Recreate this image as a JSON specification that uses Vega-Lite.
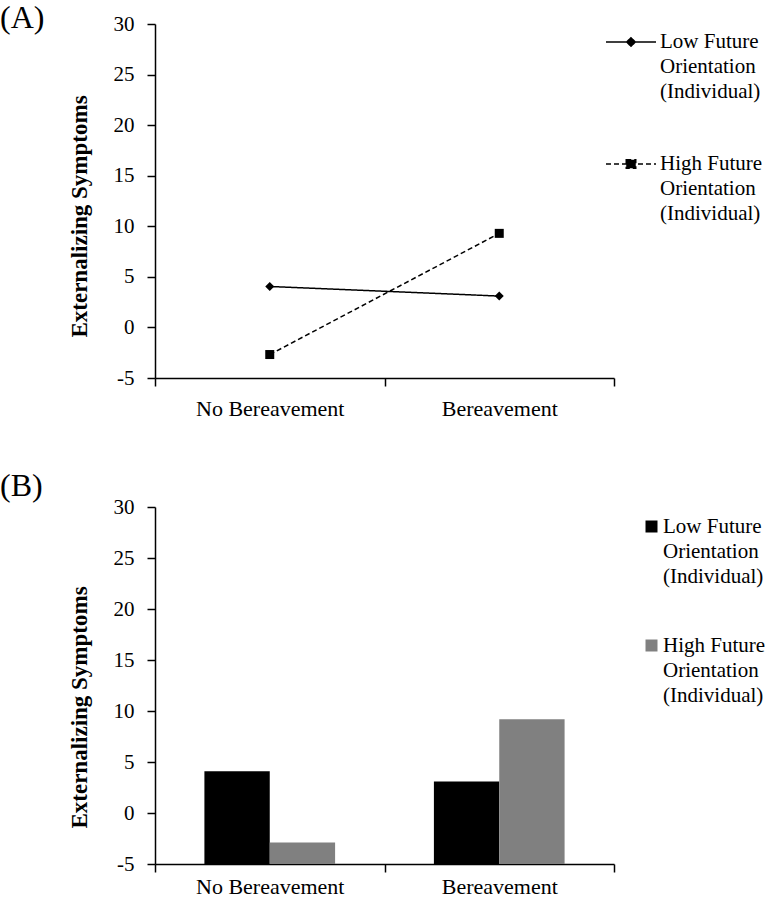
{
  "$schema": "https://vega.github.io/schema/vega-lite/v6.json",
  "background": "white",
  "padding": {"left": 0, "top": 2, "right": 5, "bottom": 0},
  "spacing": 51,
  "resolve": {"legend": {"fill": "independent", "strokeDash": "independent"}},
  "config": {
    "font": "Liberation Serif",
    "view": {"stroke": null},
    "axis": {
      "domainColor": "black", "domainWidth": 1.5, "tickColor": "black", "tickWidth": 1.5, "tickSize": 8,
      "labelColor": "black", "labelFont": "Liberation Serif", "titleFont": "Liberation Serif", "titleColor": "black", "grid": false
    },
    "axisY": {"labelFontSize": 21, "labelPadding": 13, "titleFontSize": 23, "titleFontWeight": "bold", "titlePadding": 22, "titleY": 192, "labelExpr": "'' + datum.value"},
    "axisX": {"labelFontSize": 22, "labelPadding": 12, "tickBand": "extent", "labelAngle": 0},
    "legend": {"labelFont": "Liberation Serif", "labelFontSize": 21, "labelColor": "black", "labelLimit": 0, "padding": 0}
  },
  "vconcat": [
    {
      "width": 459,
      "height": 354,
      "title": {"text": "(A)", "anchor": "start", "frame": "group", "dx": -155, "fontSize": 32, "fontWeight": "normal", "font": "Liberation Serif", "color": "black", "baseline": "alphabetic", "offset": -47},
      "data": {"values": [
        {"condition": "No Bereavement", "group": "Low Future Orientation (Individual)", "value": 4.05},
        {"condition": "Bereavement", "group": "Low Future Orientation (Individual)", "value": 3.1},
        {"condition": "No Bereavement", "group": "High Future Orientation (Individual)", "value": -2.68},
        {"condition": "Bereavement", "group": "High Future Orientation (Individual)", "value": 9.3}
      ]},
      "encoding": {
        "x": {"field": "condition", "type": "nominal", "sort": ["No Bereavement", "Bereavement"], "bandPosition": 0.5,
              "scale": {"type": "band", "paddingInner": 0, "paddingOuter": 0}, "axis": {"title": null}},
        "y": {"field": "value", "type": "quantitative", "scale": {"domain": [-5, 30], "nice": false, "zero": false},
              "axis": {"title": "Externalizing Symptoms", "values": [-5, 0, 5, 10, 15, 20, 25, 30]}}
      },
      "layer": [
        {
          "mark": {"type": "line", "color": "black", "strokeWidth": 1.5},
          "encoding": {
            "strokeDash": {"field": "group", "type": "nominal",
              "sort": ["Low Future Orientation (Individual)", "High Future Orientation (Individual)"],
              "scale": {"range": [[1, 0], [5, 3]]},
              "legend": {
                "title": null, "orient": "none", "legendX": 450, "legendY": -8,
                "symbolType": "M-1,0H1", "symbolSize": 2500, "symbolStrokeWidth": 1.5, "symbolStrokeColor": "black", "symbolFillColor": "black",
                "labelOffset": 3, "rowPadding": 36, "labelBaseline": "top",
                "labelExpr": "split(replace(replace(datum.label, ' Orientation', '|Orientation'), ' (', '|('), '|')",
                "encode": {
                  "symbols": {"update": {
                    "shape": {"signal": "indexof(datum.value, 'Low') === 0 ? 'M-1,0H1M0,-0.17L0.17,0L0,0.17L-0.17,0Z' : 'M-1,0H1M-0.19,-0.17H0.19V0.17H-0.19Z'"},
                    "fill": {"value": "black"},
                    "stroke": {"value": "black"},
                    "strokeWidth": {"value": 1.5},
                    "strokeDash": {"signal": "indexof(datum.value, 'Low') === 0 ? [1, 0] : [5, 3]"}
                  }},
                  "labels": {"update": {"lineHeight": {"value": 25}, "dy": {"value": -11}}}
                }
              }
            }
          }
        },
        {
          "mark": {"type": "point", "filled": true, "color": "black", "opacity": 1, "size": 81},
          "encoding": {
            "shape": {"field": "group", "type": "nominal",
              "sort": ["Low Future Orientation (Individual)", "High Future Orientation (Individual)"],
              "scale": {"range": ["diamond", "square"]}, "legend": null}
          }
        }
      ]
    },
    {
      "width": 459,
      "height": 357,
      "title": {"text": "(B)", "anchor": "start", "frame": "group", "dx": -155, "fontSize": 32, "fontWeight": "normal", "font": "Liberation Serif", "color": "black", "baseline": "alphabetic", "offset": -32},
      "data": {"values": [
        {"condition": "No Bereavement", "group": "Low Future Orientation (Individual)", "value": 4.1},
        {"condition": "Bereavement", "group": "Low Future Orientation (Individual)", "value": 3.1},
        {"condition": "No Bereavement", "group": "High Future Orientation (Individual)", "value": -2.9},
        {"condition": "Bereavement", "group": "High Future Orientation (Individual)", "value": 9.2}
      ]},
      "mark": {"type": "bar"},
      "encoding": {
        "x": {"field": "condition", "type": "nominal", "sort": ["No Bereavement", "Bereavement"],
              "scale": {"type": "band", "paddingInner": 0, "paddingOuter": 0}, "axis": {"title": null, "labelPadding": 4}},
        "xOffset": {"field": "group", "type": "nominal",
              "sort": ["Low Future Orientation (Individual)", "High Future Orientation (Individual)"],
              "scale": {"paddingInner": 0, "paddingOuter": 0.756}},
        "y": {"field": "value", "type": "quantitative", "scale": {"domain": [-5, 30], "nice": false, "zero": false},
              "axis": {"title": "Externalizing Symptoms", "values": [-5, 0, 5, 10, 15, 20, 25, 30], "titleY": 200}},
        "y2": {"datum": -5},
        "fill": {"field": "group", "type": "nominal",
              "sort": ["Low Future Orientation (Individual)", "High Future Orientation (Individual)"],
              "scale": {"range": ["#000000", "#808080"]},
              "legend": {
                "title": null, "orient": "none", "legendX": 486, "legendY": 9,
                "symbolType": "square", "symbolSize": 144, "symbolStrokeWidth": 0,
                "labelOffset": 1, "rowPadding": 47, "labelBaseline": "top",
                "labelExpr": "split(replace(replace(datum.label, ' Orientation', '|Orientation'), ' (', '|('), '|')",
                "encode": {"labels": {"update": {"lineHeight": {"value": 25}, "dy": {"value": -11}}}}
              }}
      }
    }
  ]
}
